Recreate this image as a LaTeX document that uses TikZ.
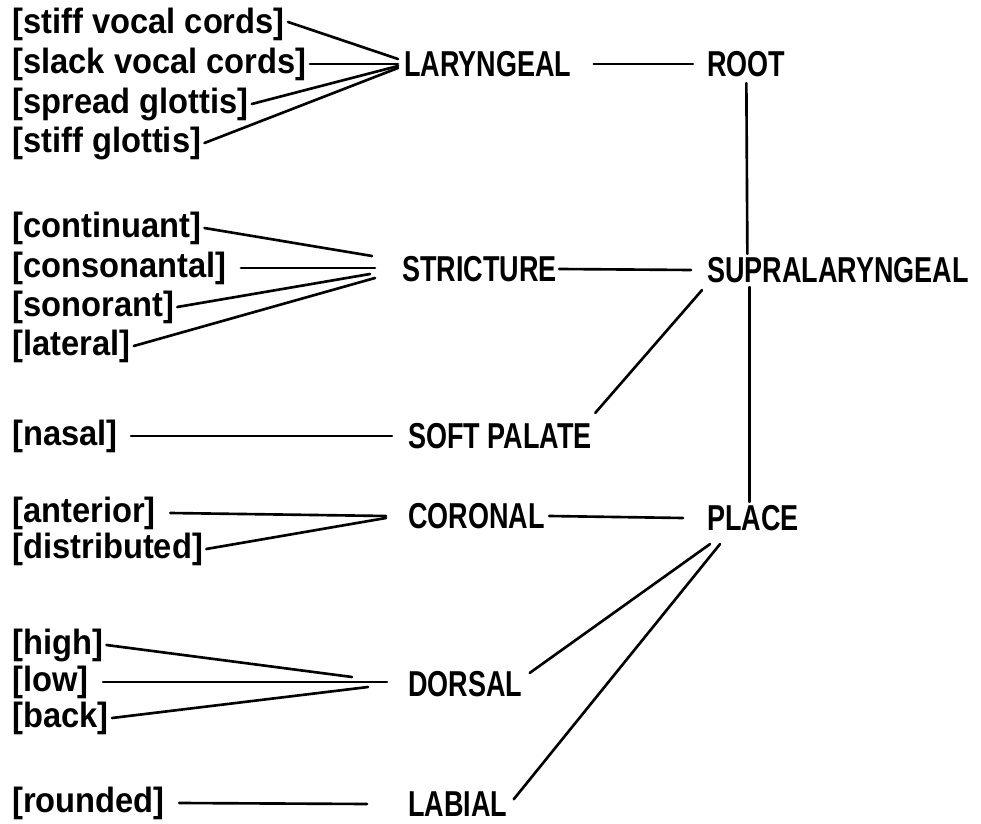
\documentclass[tikz,border=0pt]{standalone}
\usepackage{fontspec}
\setmainfont{Liberation Sans}
\newfontfamily\featfamily{Liberation Sans Bold}[FakeStretch=0.93]
\newfontfamily\tierfamily{Liberation Sans Bold}[FakeStretch=0.75]
\usetikzlibrary{calc}
\tikzset{
  feature/.style={anchor=west, inner sep=0pt,
    font=\featfamily\fontsize{20}{24}\selectfont},
  tier/.style={anchor=west, inner sep=0pt,
    font=\tierfamily\fontsize{20.5}{24}\selectfont},
  assoc/.style={line width=1.5pt, line cap=round}
}

\begin{document}
\begin{tikzpicture}[x=0.02cm, y=-0.02cm]
  \useasboundingbox (0,0) rectangle (981,824);
  % features
  \node[feature] (svc)  at (12,24)  {[stiff vocal cords]};
  \node[feature] (slvc) at (12,64)  {[slack vocal cords]};
  \node[feature] (spg)  at (12,104) {[spread glottis]};
  \node[feature] (stg)  at (12,143) {[stiff glottis]};
  \node[feature] (cont) at (12,228) {[continuant]};
  \node[feature] (cons) at (12,268) {[consonantal]};
  \node[feature] (son)  at (12,307) {[sonorant]};
  \node[feature] (lat)  at (12,346) {[lateral]};
  \node[feature] (nas)  at (12,436) {[nasal]};
  \node[feature] (ant)  at (12,513) {[anterior]};
  \node[feature] (dist) at (12,549) {[distributed]};
  \node[feature] (high) at (12,645) {[high]};
  \node[feature] (low)  at (12,682) {[low]};
  \node[feature] (back) at (12,718) {[back]};
  \node[feature] (rnd)  at (12,803) {[rounded]};
  % class nodes
  \node[tier] (lar)   at (404,64)  {LARYNGEAL};
  \node[tier] (str)   at (402,269) {STRICTURE};
  \node[tier] (sp)    at (408,436) {SOFT PALATE};
  \node[tier] (cor)   at (408,516) {CORONAL};
  \node[tier] (dor)   at (408,684) {DORSAL};
  \node[tier] (lab)   at (408,804) {LABIAL};
  \node[tier] (root)  at (707,64)  {ROOT};
  \node[tier] (supra) at (707,270) {SUPRALARYNGEAL};
  \node[tier] (place) at (707,518) {PLACE};

  % laryngeal
  \draw[assoc] ([shift={(3,-2)}]svc.east) -- ([shift={(-6,-5)}]lar.west);
  \draw[assoc] ([shift={(3,0)}]slvc.east) -- ([shift={(-6,0)}]lar.west);
  \draw[assoc] ([shift={(3,0)}]spg.east) -- ([shift={(-6,2)}]lar.west);
  \draw[assoc] ([shift={(3,0)}]stg.east) -- ([shift={(-6,4)}]lar.west);
  % stricture
  \draw[assoc] ([shift={(3,0)}]cont.east) -- ([shift={(-30,-13)}]str.west);
  \draw[assoc] ([shift={(14,0)}]cons.east) -- ([shift={(-27,-1)}]str.west);
  \draw[assoc] ([shift={(3,0)}]son.east) -- ([shift={(-32,5)}]str.west);
  \draw[assoc] ([shift={(3,0)}]lat.east) -- ([shift={(-27,9)}]str.west);
  % soft palate, coronal
  \draw[assoc] ([shift={(13,0)}]nas.east) -- ([shift={(-16,0)}]sp.west);
  \draw[assoc] ([shift={(14,0)}]ant.east) -- ([shift={(-22,0)}]cor.west);
  \draw[assoc] ([shift={(3,0)}]dist.east) -- ([shift={(-22,2)}]cor.west);
  % dorsal, labial
  \draw[assoc] ([shift={(3,0)}]high.east) -- ([shift={(-56,-7)}]dor.west);
  \draw[assoc] ([shift={(14,0)}]low.east) -- ([shift={(-21,-2)}]dor.west);
  \draw[assoc] ([shift={(3,0)}]back.east) -- ([shift={(-40,3)}]dor.west);
  \draw[assoc] ([shift={(14,0)}]rnd.east) -- ([shift={(-41,0)}]lab.west);

  % tree
  \draw[assoc] ([shift={(22,0)}]lar.east) -- ([shift={(-14,0)}]root.west);
  \draw[assoc] ([shift={(0,6)}]root.south) -- ($(root.south |- supra.north)+(1,-3)$);
  \draw[assoc] ([shift={(2,0)}]str.east) -- ([shift={(-16,0)}]supra.west);
  \draw[assoc] ([shift={(3,-10)}]sp.north east) -- ([shift={(-5,7)}]supra.south west);
  \draw[assoc] ($(root.south |- supra.south)+(3,4)$) -- ($(root.south |- place.north)+(3,-3)$);
  \draw[assoc] ([shift={(4,0)}]cor.east) -- ([shift={(-24,0)}]place.west);
  \draw[assoc] ([shift={(3,13)}]place.south west) -- ([shift={(7,2)}]dor.north east);
  \draw[assoc] ([shift={(13,13)}]place.south west) -- ([shift={(6,8)}]lab.north east);
\end{tikzpicture}
\end{document}
